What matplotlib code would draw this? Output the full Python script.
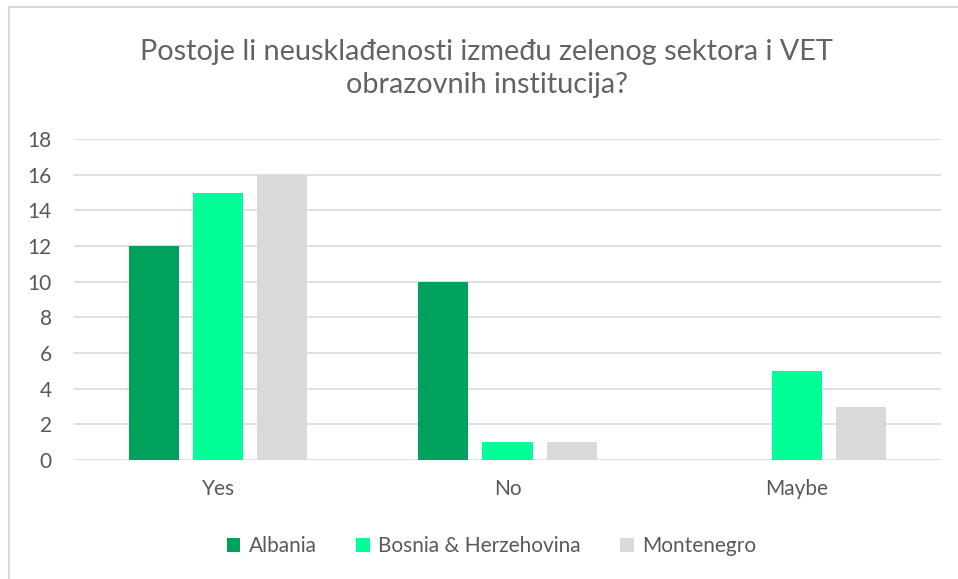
import numpy as np
import matplotlib
matplotlib.use("Agg")
import matplotlib.pyplot as plt
from matplotlib.patches import Rectangle

categories = ["Yes", "No", "Maybe"]
albania = [12, 10, 0]
bosnia = [15, 1, 5]
montenegro = [16, 1, 3]
series_names = ["Albania", "Bosnia & Herzehovina", "Montenegro"]
colors = ["#00A15C", "#00FF96", "#D9D9D9"]

plt.rcParams['font.family'] = ['Lato', 'DejaVu Sans']
text_color = "#595959"

fig = plt.figure(figsize=(9.58, 5.79), dpi=100)
ax = fig.add_axes([0.0772, 0.2055, 0.9051, 0.5544])

x = np.arange(len(categories))
width = 0.173
step = 0.2215
for i, (vals, name, c) in enumerate(zip([albania, bosnia, montenegro], series_names, colors)):
    ax.bar(x + (i - 1) * step, vals, width, color=c, label=name, zorder=3)

ax.set_xlim(-0.5, 2.5)
ax.set_ylim(0, 18)
ax.set_yticks(range(0, 19, 2))
ax.yaxis.grid(True, color="#D9D9D9", linewidth=1.2, zorder=0)
ax.set_axisbelow(True)
for s in ax.spines.values():
    s.set_visible(False)
ax.tick_params(axis='both', length=0, labelsize=15, colors=text_color)
ax.tick_params(axis='y', pad=16)
ax.tick_params(axis='x', pad=14)
ax.set_xticks(x)
ax.set_xticklabels(categories)

fig.text(0.508, 0.881, "Postoje li neusklađenosti između zelenog sektora i VET\nobrazovnih institucija?",
         ha='center', va='center', fontsize=20.8, color="#636363", linespacing=1.33)

leg = fig.legend(loc='center', bbox_to_anchor=(0.513, 0.057), ncol=3, frameon=False,
                 fontsize=15, handlelength=0.65, handleheight=0.65, handletextpad=0.4,
                 columnspacing=1.9, labelcolor=text_color)

# outer chart border (only left/top visible in the reference)
fig.patches.append(Rectangle((9 / 958, -0.1), 1.2, 1 - 7 / 579 + 0.1, transform=fig.transFigure,
                             fill=False, edgecolor="#D9D9D9", linewidth=1.5))

fig.savefig("out.png", dpi=100)
